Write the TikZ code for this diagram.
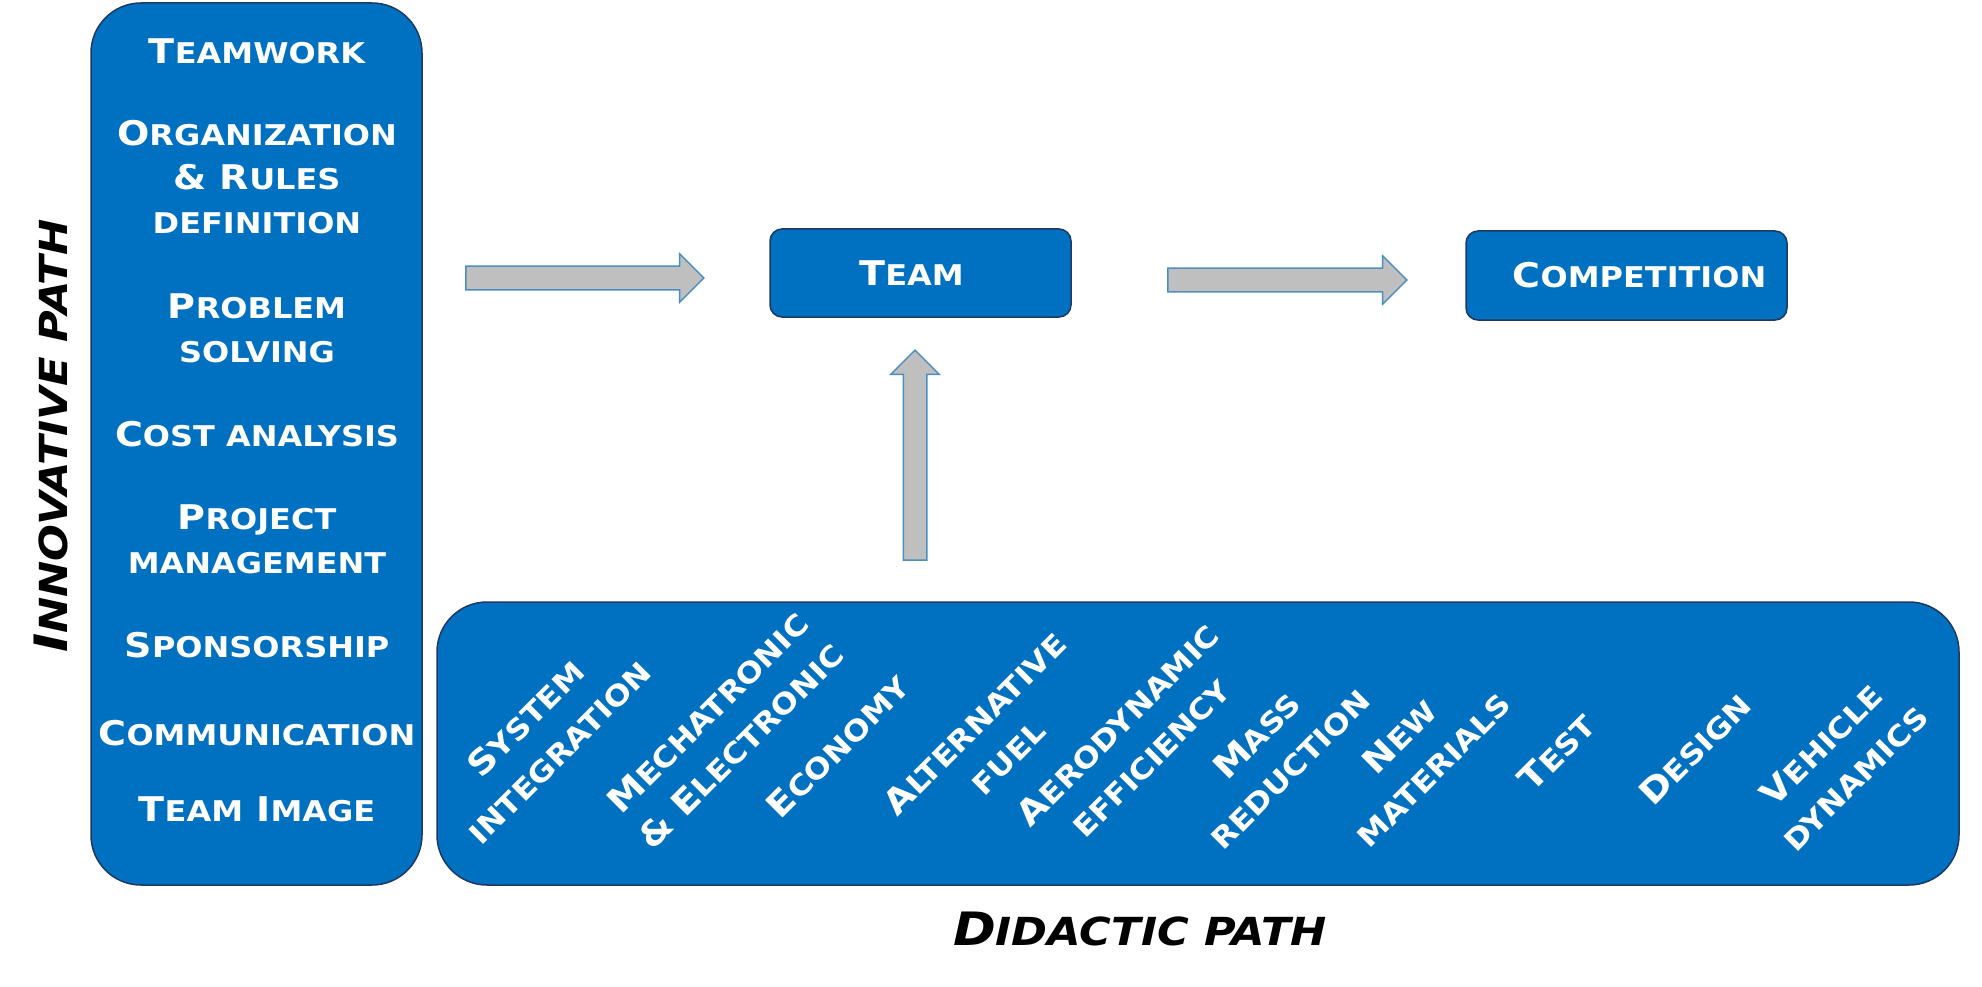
\documentclass[tikz,border=0pt]{standalone}
\usepackage{fontspec}
\setmainfont{DejaVu Sans}[BoldFont={DejaVu Sans Bold}, ItalicFont={DejaVu Sans Oblique}, BoldItalicFont={DejaVu Sans Bold Oblique}, FakeStretch=1.12]
\usetikzlibrary{shapes.arrows}
\definecolor{boxblue}{HTML}{0070C0}
\definecolor{boxline}{HTML}{1F3864}
\definecolor{arrowline}{HTML}{4A8FC0}
\definecolor{arrowfill}{HTML}{BFBFBF}
\makeatletter
\newcommand\sm[1]{{\fontsize{\strip@pt\dimexpr\f@size pt*84/100\relax}{\f@baselineskip}\selectfont\MakeUppercase{#1}}}
\makeatother
\tikzset{
  pathbox/.style={draw=boxline, line width=1.5pt, fill=boxblue, rounded corners=50pt},
  stagebox/.style={draw=boxline, line width=1.5pt, fill=boxblue, rounded corners=12pt, text=white, font=\fontsize{34}{44}\selectfont\bfseries},
  skill/.style={text=white, align=center, inner sep=0pt, font=\fontsize{34}{44}\selectfont\bfseries},
  course/.style={text=white, align=center, inner sep=0pt, rotate=45, font=\fontsize{34}{47}\selectfont\bfseries},
  pathlabel/.style={inner sep=0pt, font=\fontsize{46}{50}\selectfont\bfseries\itshape},
  blockarrow/.style={single arrow, draw=arrowline, line width=1.5pt, fill=arrowfill, inner xsep=0pt, inner ysep=11pt, single arrow head extend=12.5pt, single arrow head indent=0pt}
}
\begin{document}
\begin{tikzpicture}[x=1pt,y=-1pt]
\useasboundingbox (0,0) rectangle (1982,987);

% the two paths
\node[pathbox, minimum width=331pt, minimum height=882pt] (innov) at (256.5,444) {};
\node[pathbox, minimum width=1522pt, minimum height=283pt] (didac) at (1198,743.5) {};

\node[pathlabel, rotate=90] (innovlabel) at (51,436) {I\sm{nnovative path}};
\node[pathlabel] (didaclabel) at (1140,929) {D\sm{idactic path}};

% innovative path skills
\node[skill] (s1) at (257,51) {T\sm{eamwork}};
\node[skill] (s2) at (257,177) {O\sm{rganization}\\\& R\sm{ules}\\\sm{definition}};
\node[skill] (s3) at (257,328) {P\sm{roblem}\\\sm{solving}};
\node[skill] (s4) at (257,434) {C\sm{ost analysis}};
\node[skill] (s5) at (257,539) {P\sm{roject}\\\sm{management}};
\node[skill] (s6) at (257,645) {S\sm{ponsorship}};
\node[skill] (s7) at (257,733) {C\sm{ommunication}};
\node[skill] (s8) at (257,809) {T\sm{eam} I\sm{mage}};

% didactic path courses
\node[course] (c1) at (542,735) {S\sm{ystem}\\\sm{integration}};
\node[course] (c2) at (724,729) {M\sm{echatronic}\\\& E\sm{lectronic}};
\node[course] (c3) at (838,746) {E\sm{conomy}};
\node[course] (c4) at (991,740) {A\sm{lternative}\\\sm{fuel}};
\node[course] (c5) at (1134,741) {A\sm{erodynamic}\\\sm{efficiency}};
\node[course] (c6) at (1273,752) {M\sm{ass}\\\sm{reduction}};
\node[course] (c7) at (1416,753) {N\sm{ew}\\\sm{materials}};
\node[course] (c8) at (1557,752) {T\sm{est}};
\node[course] (c9) at (1695,749) {D\sm{esign}};
\node[course] (c10) at (1838,761) {V\sm{ehicle}\\\sm{dynamics}};

% team and competition
\node[stagebox, minimum width=301pt, minimum height=88pt] (team) at (920.5,273) {T\sm{eam}\hspace*{18pt}};
\node[stagebox, minimum width=321pt, minimum height=89pt] (comp) at (1626.5,275.5) {\hspace*{26pt}C\sm{ompetition}};

% block arrows
\node[blockarrow, minimum height=238pt] (toteam) at (579,278) {};
\node[blockarrow, minimum height=239pt] (tocomp) at (1281.5,280) {};
\node[blockarrow, minimum height=210pt, rotate=90] (upteam) at (915,461) {};
\end{tikzpicture}
\end{document}
